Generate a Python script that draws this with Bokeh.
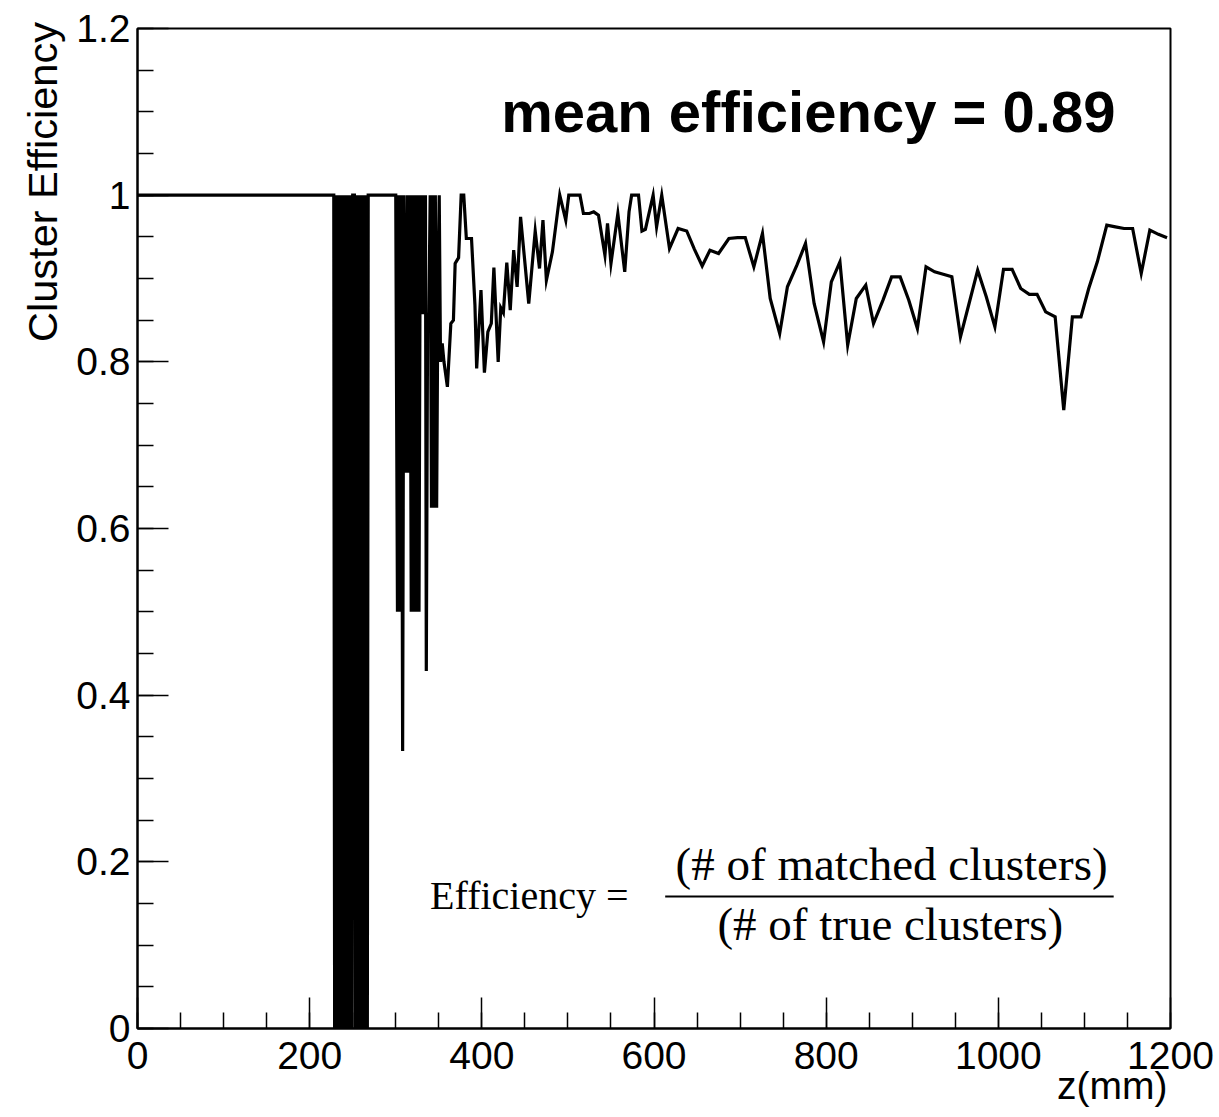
from bokeh.plotting import figure
from bokeh.models import Range1d, FixedTicker, Label
from bokeh.embed import file_html
from bokeh.resources import INLINE

# ---------------- data ----------------
z_mm = [
    0.5, 228,
    229, 230, 231, 232, 233, 234, 235, 236, 237, 238, 239, 240, 241, 242, 243, 244,
    245, 246, 247, 248, 249, 250,
    252, 253, 254, 255, 256, 257, 258, 259, 260, 261, 262, 263, 264, 265, 266, 267, 268,
    270, 300,
    302, 303.5, 305, 306.5, 308, 309.5, 312, 313.5, 315, 316.5, 318, 319.5, 321, 322.5,
    324, 325.5, 327, 328.5, 330, 331.5, 333, 334.5, 335.5, 337, 338.5, 340, 341.5, 343,
    344.5, 346, 347.5, 349, 350.5, 352,
    354, 356, 360, 364, 367, 369, 373, 376, 379, 382, 388, 392, 394, 399, 403, 407, 411,
    414, 419, 422, 425, 429, 433, 437, 441, 445,
    454.5, 462, 467, 471, 475, 482, 490.5, 497.5, 501, 514, 518, 525, 530, 535.5, 543,
    546, 550, 558, 566, 571, 574, 582, 586, 590, 599, 603, 609, 618, 628, 638, 647, 656,
    665, 675, 687, 697, 706, 716, 726, 735, 746, 755, 766, 776, 786, 797, 806, 816, 825,
    835, 846, 855, 866, 876, 886, 896, 906, 916, 926, 936, 946, 956, 966, 976, 986, 996,
    1006, 1016, 1026, 1036, 1045, 1055, 1066, 1076, 1086, 1096, 1105, 1115, 1126, 1136,
    1146, 1156, 1166, 1176, 1186, 1196,
]
efficiency = [
    1, 1,
    0, 1, 0, 1, 0, 1, 0, 1, 0, 1, 0, 1, 0, 1, 0, 1,
    0, 1, 0, 1, 0, 1,
    1, 0, 1, 0, 1, 0, 1, 0, 1, 0, 1, 0, 1, 0, 1, 0, 1,
    1, 1,
    0.5, 1, 0.5, 1, 0.333, 1, 0.667, 1, 0.667, 1, 0.5, 1, 0.5, 1,
    0.5, 1, 0.5, 1, 0.857, 1, 0.857, 1, 0.429, 0.857, 0.857, 1, 0.625, 1,
    0.625, 1, 0.625, 0.889, 1, 0.8,
    0.822, 0.80, 0.77, 0.846, 0.85, 0.918, 0.925, 1.0, 1.0, 0.948, 0.948, 0.868, 0.792,
    0.886, 0.787, 0.836, 0.846,
    0.913, 0.80, 0.865, 0.859, 0.919, 0.862, 0.934, 0.89, 0.974,
    0.87, 0.957, 0.912, 0.97, 0.898, 0.932, 1.0, 0.97, 1.0, 1.0, 0.978, 0.978, 0.98, 0.976,
    0.928, 0.966, 0.918, 0.978, 0.908, 0.98, 1.0, 1.0, 0.957, 0.959, 1.0, 0.962, 1.0, 0.936,
    0.96, 0.957, 0.935, 0.915,
    0.934, 0.930, 0.948, 0.949, 0.949, 0.914, 0.954, 0.876, 0.834, 0.890, 0.916, 0.942,
    0.870, 0.824, 0.896, 0.920, 0.820,
    0.876, 0.892, 0.846, 0.874, 0.902, 0.902, 0.874, 0.840, 0.914, 0.908, 0.905, 0.902,
    0.830, 0.870, 0.910, 0.878, 0.842,
    0.911, 0.911, 0.888, 0.881, 0.881, 0.860, 0.854, 0.742, 0.854, 0.854, 0.888, 0.920,
    0.964, 0.962,
    0.960, 0.960, 0.906, 0.958, 0.953, 0.949,
]

x_major = [0, 200, 400, 600, 800, 1000, 1200]
x_minor = list(range(0, 1201, 50))
y_major = [0, 0.2, 0.4, 0.6, 0.8, 1, 1.2]
y_minor = [round(0.05 * i, 2) for i in range(25)]
y_labels = {0: "0", 0.2: "0.2", 0.4: "0.4", 0.6: "0.6", 0.8: "0.8", 1: "1", 1.2: "1.2"}

mean_text = "mean efficiency = 0.89"
y_title = "Cluster Efficiency"
x_title = "z(mm)"

SANS = "Liberation Sans"
SERIF = "Liberation Serif"

p = figure(width=1219, height=1117, output_backend="svg", toolbar_location=None,
           x_range=Range1d(0, 1200), y_range=Range1d(0, 1.2),
           min_border_left=137, min_border_right=49, min_border_top=28,
           min_border_bottom=89)
p.background_fill_color = "white"
p.border_fill_color = "white"
p.grid.visible = False
p.outline_line_color = "black"
p.outline_line_width = 2

for ax in (p.xaxis[0], p.yaxis[0]):
    ax.axis_line_width = 2
    ax.axis_line_color = "black"
    ax.major_tick_in = 31
    ax.major_tick_out = 0
    ax.minor_tick_in = 16
    ax.minor_tick_out = 0
    ax.major_tick_line_width = 1.5
    ax.minor_tick_line_width = 1.5
    ax.major_tick_line_color = "black"
    ax.minor_tick_line_color = "black"
    ax.major_label_text_font = SANS
    ax.major_label_text_font_size = "39px"
    ax.major_label_text_color = "black"

p.xaxis[0].ticker = FixedTicker(ticks=x_major, minor_ticks=x_minor)
p.yaxis[0].ticker = FixedTicker(ticks=y_major, minor_ticks=y_minor)
p.yaxis[0].major_label_overrides = y_labels
p.xaxis[0].major_label_standoff = 13
p.yaxis[0].major_label_standoff = 7

p.line(z_mm, efficiency, line_color="black", line_width=3.2, line_join="miter")

# axis titles: placed in side panels so they are not clipped to the frame
p.add_layout(Label(x=-110.4, y=1.2077, text=y_title, angle=1.5707963, angle_units="rad",
                   text_align="right", text_baseline="alphabetic",
                   text_font=SANS, text_font_size="41.5px", text_color="black"), "left")
p.add_layout(Label(x=1196.6, y=-0.0685, text=x_title, text_align="right",
                   text_baseline="alphabetic", text_font=SANS,
                   text_font_size="39px", text_color="black"), "below")

p.add_layout(Label(x=1136, y=1.1008, text=mean_text, text_align="right",
                   text_baseline="alphabetic", text_font=SANS, text_font_style="bold",
                   text_font_size="58px", text_color="black"))

# formula Efficiency = (# of matched clusters)/(# of true clusters)
p.add_layout(Label(x=570.4, y=0.1597, text="Efficiency =", text_align="right",
                   text_baseline="alphabetic", text_font=SERIF,
                   text_font_size="40px", text_color="black"))
p.add_layout(Label(x=876, y=0.1969, text="(# of matched clusters)", text_align="center",
                   text_baseline="alphabetic", text_font=SERIF,
                   text_font_size="47px", text_color="black"))
p.add_layout(Label(x=874.5, y=0.1249, text="(# of true clusters)", text_align="center",
                   text_baseline="alphabetic", text_font=SERIF,
                   text_font_size="47px", text_color="black"))
p.segment(x0=[613], y0=[0.1585], x1=[1134], y1=[0.1585], line_color="black", line_width=2)

open("out.html", "w").write(file_html(p, INLINE))
